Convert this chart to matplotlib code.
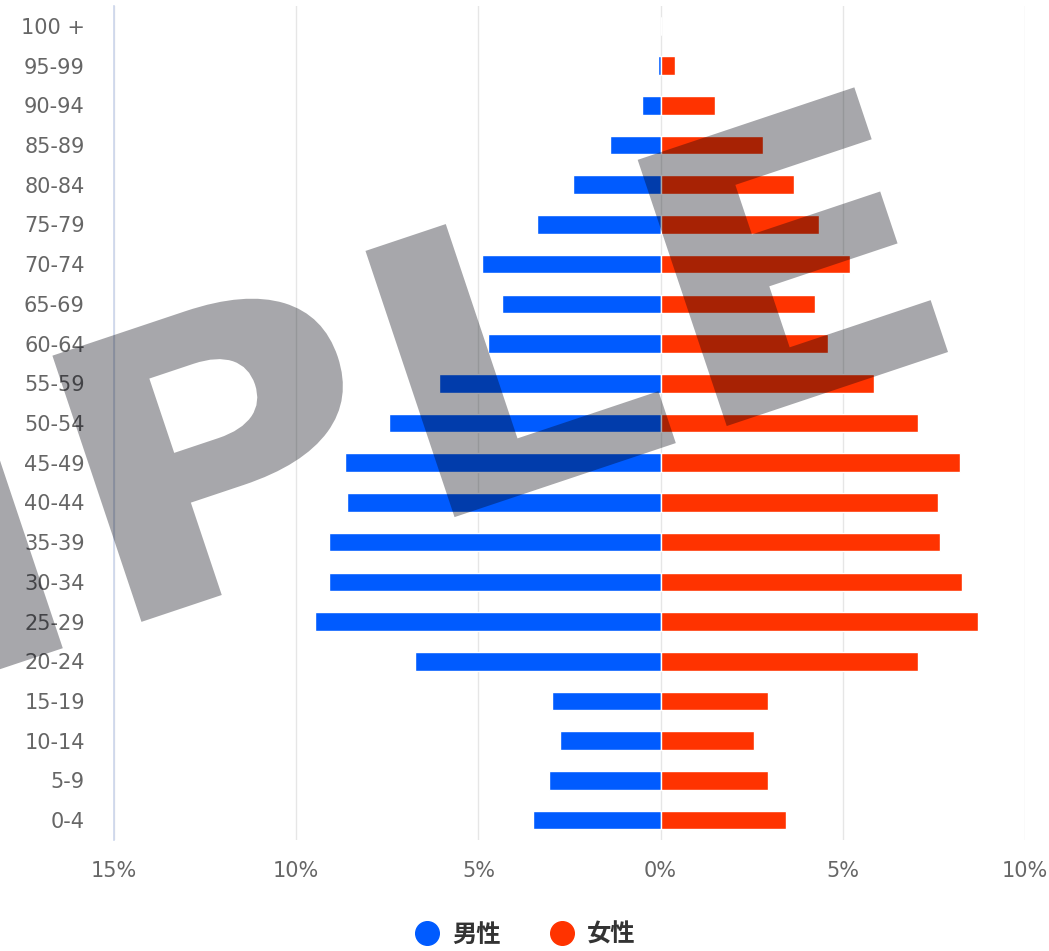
import matplotlib.pyplot as plt
from matplotlib.lines import Line2D
from matplotlib.textpath import TextPath
from matplotlib.patches import PathPatch
from matplotlib.font_manager import FontProperties
from matplotlib.transforms import Affine2D
import numpy as np

# Age groups, bottom to top
ages = ['0-4', '5-9', '10-14', '15-19', '20-24', '25-29', '30-34', '35-39',
        '40-44', '45-49', '50-54', '55-59', '60-64', '65-69', '70-74',
        '75-79', '80-84', '85-89', '90-94', '95-99', '100 +']

# Share of population (%)
male = [3.49, 3.05, 2.77, 2.99, 6.73, 9.48, 9.09, 9.09, 8.60, 8.65, 7.45,
        6.07, 4.75, 4.35, 4.90, 3.40, 2.40, 1.40, 0.50, 0.08, 0.0]
female = [3.43, 2.94, 2.55, 2.94, 7.06, 8.71, 8.27, 7.66, 7.61, 8.21, 7.06,
          5.85, 4.60, 4.25, 5.20, 4.35, 3.65, 2.80, 1.50, 0.40, 0.0]

xticks = [-15, -10, -5, 0, 5, 10]
xtick_labels = ['15%', '10%', '5%', '0%', '5%', '10%']

blue = '#005bff'
red = '#ff3300'

W, H = 1049, 951
fig = plt.figure(figsize=(W / 100, H / 100), dpi=100)
ax = fig.add_axes([114 / W, 1 - 840 / H, 911 / W, 834 / H])

y = list(range(len(ages)))
ax.barh(y, [-v for v in male], height=0.47, color=blue, edgecolor='white',
        linewidth=1, zorder=3)
ax.barh(y, female, height=0.47, color=red, edgecolor='white',
        linewidth=1, zorder=3)

ax.set_xlim(-15, 10)
ax.set_ylim(-0.5, 20.5)
ax.set_xticks(xticks)
ax.set_xticklabels(xtick_labels)
ax.set_yticks(y)
ax.set_yticklabels(ages)
ax.tick_params(axis='both', length=0, labelsize=15, labelcolor='#666666')
ax.tick_params(axis='x', pad=15)
ax.tick_params(axis='y', pad=21)
ax.grid(axis='x', color='#e6e6e6', linewidth=1, zorder=0)

for s in ['top', 'right', 'bottom']:
    ax.spines[s].set_visible(False)
ax.spines['left'].set_color('#ccd6eb')
ax.spines['left'].set_linewidth(1.2)

# Legend
handles = [
    Line2D([], [], marker='o', linestyle='', markersize=17, color=blue),
    Line2D([], [], marker='o', linestyle='', markersize=17, color=red),
]
fig.legend(handles, ['男性', '女性'], loc='center', ncol=2,
           bbox_to_anchor=(524 / W, 1 - 935 / H), frameon=False,
           handletextpad=0.45, columnspacing=1.9, handlelength=1.2,
           prop={'family': ['Noto Sans CJK JP', 'DejaVu Sans'],
                 'weight': 'bold', 'size': 17.5},
           labelcolor='#333333')

# Watermark: wide bold text, rotated
tp = TextPath((0, 0), 'SAMPLE', size=385,
              prop=FontProperties(family='DejaVu Sans', weight='bold'))
xmax = tp.get_extents().x1
ang = np.deg2rad(18.5)
sx = 1.17
tx = 948 - xmax * sx * np.cos(ang)
ty = (H - 352) - xmax * sx * np.sin(ang)
wm_tr = Affine2D().scale(sx, 1).rotate(ang).translate(tx, ty)
wm = PathPatch(wm_tr.transform_path(tp), facecolor='#03040e', edgecolor='none',
               alpha=0.35, transform=None, zorder=10)
fig.add_artist(wm)

fig.savefig('out.png', dpi=100)
